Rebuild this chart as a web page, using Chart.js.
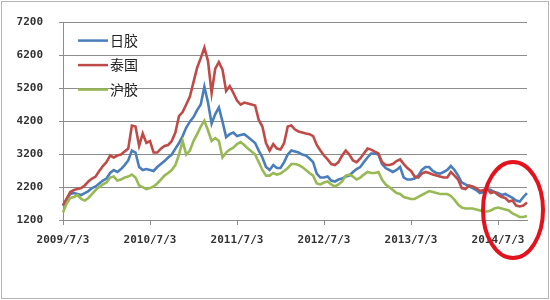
<!DOCTYPE html>
<html>
<head>
<meta charset="utf-8">
<script src="https://cdn.jsdelivr.net/npm/chart.js@4/dist/chart.umd.min.js"></script>
<style>
  html, body { margin: 0; padding: 0; background: #fff; }
  #wrap { width: 550px; height: 300px; }
</style>
</head>
<body>
<div id="wrap"><canvas id="c" width="550" height="300"></canvas></div>
<script>
// Half-monthly observation dates
const dates = [
"2009/7/3","2009/7/18","2009/8/3","2009/8/18","2009/9/3","2009/9/18","2009/10/3","2009/10/18","2009/11/3","2009/11/18","2009/12/3","2009/12/18",
"2010/1/3","2010/1/18","2010/2/3","2010/2/18","2010/3/3","2010/3/18","2010/4/3","2010/4/18","2010/5/3","2010/5/18","2010/6/3","2010/6/18",
"2010/7/3","2010/7/18","2010/8/3","2010/8/18","2010/9/3","2010/9/18","2010/10/3","2010/10/18","2010/11/3","2010/11/18","2010/12/3","2010/12/18",
"2011/1/3","2011/1/18","2011/2/3","2011/2/18","2011/3/3","2011/3/18","2011/4/3","2011/4/18","2011/5/3","2011/5/18","2011/6/3","2011/6/18",
"2011/7/3","2011/7/18","2011/8/3","2011/8/18","2011/9/3","2011/9/18","2011/10/3","2011/10/18","2011/11/3","2011/11/18","2011/12/3","2011/12/18",
"2012/1/3","2012/1/18","2012/2/3","2012/2/18","2012/3/3","2012/3/18","2012/4/3","2012/4/18","2012/5/3","2012/5/18","2012/6/3","2012/6/18",
"2012/7/3","2012/7/18","2012/8/3","2012/8/18","2012/9/3","2012/9/18","2012/10/3","2012/10/18","2012/11/3","2012/11/18","2012/12/3","2012/12/18",
"2013/1/3","2013/1/18","2013/2/3","2013/2/18","2013/3/3","2013/3/18","2013/4/3","2013/4/18","2013/5/3","2013/5/18","2013/6/3","2013/6/18",
"2013/7/3","2013/7/18","2013/8/3","2013/8/18","2013/9/3","2013/9/18","2013/10/3","2013/10/18","2013/11/3","2013/11/18","2013/12/3","2013/12/18",
"2014/1/3","2014/1/18","2014/2/3","2014/2/18","2014/3/3","2014/3/18","2014/4/3","2014/4/18","2014/5/3","2014/5/18","2014/6/3","2014/6/18",
"2014/7/3","2014/7/18","2014/8/3","2014/8/18","2014/9/3","2014/9/18","2014/10/3","2014/10/18","2014/11/3"
];

const tickLabels = ["2009/7/3","2010/7/3","2011/7/3","2012/7/3","2013/7/3","2014/7/3"];
const yTicks = [1200, 2200, 3200, 4200, 5200, 6200, 7200];

// 日胶
const japan = [
1640,1840,1990,2020,1990,1960,2020,2080,2170,2220,2310,2400,
2460,2630,2720,2660,2750,2870,3010,3310,3250,2810,2720,2750,
2720,2690,2810,2900,2990,3100,3190,3370,3540,3750,4010,4190,
4330,4540,4710,5250,4770,4130,4420,4620,4190,3720,3810,3860,
3750,3780,3810,3720,3630,3540,3310,3100,2810,2720,2870,2780,
2780,2960,3190,3310,3280,3250,3190,3160,3070,2960,2610,2490,
2490,2520,2400,2370,2430,2460,2520,2550,2660,2750,2810,2960,
3100,3220,3220,3190,2900,2780,2720,2660,2720,2810,2490,2430,
2430,2460,2550,2720,2810,2810,2690,2630,2610,2660,2720,2840,
2720,2550,2340,2280,2220,2170,2110,2020,2050,2140,2110,2050,
2020,1960,1990,1930,1870,1790,1760,1900,2020
];

// 泰国
const thailand = [
1640,1840,2050,2110,2140,2170,2250,2370,2460,2520,2690,2840,
2960,3160,3100,3160,3190,3280,3370,4070,4040,3450,3830,3540,
3600,3250,3250,3370,3450,3480,3600,3860,4360,4480,4710,4950,
5390,5830,6120,6440,6030,5060,5800,6000,5770,5120,5270,5060,
4830,4710,4770,4740,4710,4680,4240,4040,3540,3310,3510,3370,
3340,3540,4040,4070,3950,3890,3860,3830,3810,3750,3480,3310,
3160,3040,2900,2870,2960,3160,3310,3190,3010,2960,3070,3220,
3370,3340,3280,3220,2960,2870,2870,2900,2990,3040,2900,2780,
2690,2520,2490,2610,2660,2630,2580,2550,2520,2490,2490,2660,
2550,2430,2170,2140,2250,2220,2170,2080,2110,2140,2020,2050,
1960,1900,1870,1760,1790,1640,1610,1640,1730
];

// 沪胶
const shanghai = [
1430,1700,1870,1900,1960,1840,1790,1870,1990,2110,2200,2280,
2340,2490,2520,2400,2430,2490,2520,2580,2490,2250,2200,2140,
2170,2220,2310,2430,2550,2630,2720,2870,3190,3600,3190,3310,
3600,3810,4040,4220,3920,3600,3690,3600,3100,3250,3340,3400,
3510,3570,3480,3370,3280,3190,2960,2720,2550,2550,2630,2580,
2610,2690,2780,2900,2900,2870,2810,2720,2630,2550,2310,2280,
2340,2370,2280,2220,2280,2370,2550,2580,2520,2430,2490,2580,
2660,2630,2630,2660,2430,2280,2200,2110,2020,1990,1900,1870,
1840,1840,1900,1960,2020,2080,2050,2020,1990,1990,1990,1930,
1810,1670,1580,1550,1550,1550,1520,1490,1460,1460,1490,1550,
1580,1550,1520,1490,1400,1350,1290,1290,1320
];

const seriesNames = ["日胶", "泰国", "沪胶"];
const seriesColors = ["#4a7ebb", "#be4b48", "#98b954"];

const decor = {
  id: 'decor',
  beforeDraw(chart) {
    const c = chart.ctx;
    c.save();
    c.fillStyle = '#ffffff';
    c.fillRect(0, 0, chart.width, chart.height);
    c.strokeStyle = '#b4b4b4';
    c.lineWidth = 1;
    c.strokeRect(1.5, 1.5, chart.width - 3, chart.height - 3);
    c.restore();
  },
  afterDraw(chart) {
    const c = chart.ctx;
    const a = chart.chartArea;
    c.save();
    // legend inside plot area
    chart.data.datasets.forEach((ds, i) => {
      const y = a.top + 18 + i * 24.5;
      c.strokeStyle = ds.borderColor;
      c.lineWidth = 2.5;
      c.beginPath();
      c.moveTo(a.left + 15, y);
      c.lineTo(a.left + 45, y);
      c.stroke();
      c.fillStyle = '#222';
      c.font = '14px "Noto Sans CJK SC"';
      c.textBaseline = 'middle';
      c.textAlign = 'left';
      c.fillText(ds.label, a.left + 47, y);
    });
    // red highlight ellipse
    c.strokeStyle = '#e3121c';
    c.lineWidth = 4;
    c.beginPath();
    c.ellipse(513, 210, 30, 48, 0, 0, Math.PI * 2);
    c.stroke();
    c.restore();
  }
};

const gridColor = '#8c8c8c';
const tickFont = { family: '"DejaVu Sans Mono"', size: 11, weight: 'bold' };

new Chart(document.getElementById('c'), {
  type: 'line',
  data: {
    labels: dates,
    datasets: [
      { label: seriesNames[0], data: japan, borderColor: seriesColors[0], order: 3 },
      { label: seriesNames[1], data: thailand, borderColor: seriesColors[1], order: 2 },
      { label: seriesNames[2], data: shanghai, borderColor: seriesColors[2], order: 1 }
    ].map(d => Object.assign(d, { borderWidth: 2.6, pointRadius: 0, tension: 0, fill: false }))
  },
  options: {
    responsive: false,
    animation: false,
    layout: { padding: { left: 0, right: 23, top: 15, bottom: 0 } },
    plugins: { legend: { display: false }, tooltip: { enabled: false } },
    scales: {
      x: {
        type: 'category',
        afterFit(s) { s.height = 80; },
        grid: {
          drawOnChartArea: false,
          drawTicks: true,
          tickLength: 5,
          color: gridColor,
          tickColor: ctx => tickLabels.includes(dates[ctx.index]) ? gridColor : 'rgba(0,0,0,0)'
        },
        border: { display: true, color: gridColor },
        ticks: {
          autoSkip: false,
          maxRotation: 0,
          minRotation: 0,
          padding: 9,
          color: '#333',
          font: tickFont,
          callback(v, i) { return tickLabels.includes(dates[i]) ? dates[i] : ''; }
        }
      },
      y: {
        min: yTicks[0],
        max: yTicks[yTicks.length - 1],
        afterFit(s) { s.width = 63; },
        afterBuildTicks(s) { s.ticks = yTicks.map(v => ({ value: v })); },
        grid: { color: gridColor, tickLength: 4, lineWidth: 1 },
        border: { display: true, color: gridColor },
        ticks: { padding: 16, color: '#333', font: tickFont, callback: v => String(v) }
      }
    }
  },
  plugins: [decor]
});
</script>
</body>
</html>
